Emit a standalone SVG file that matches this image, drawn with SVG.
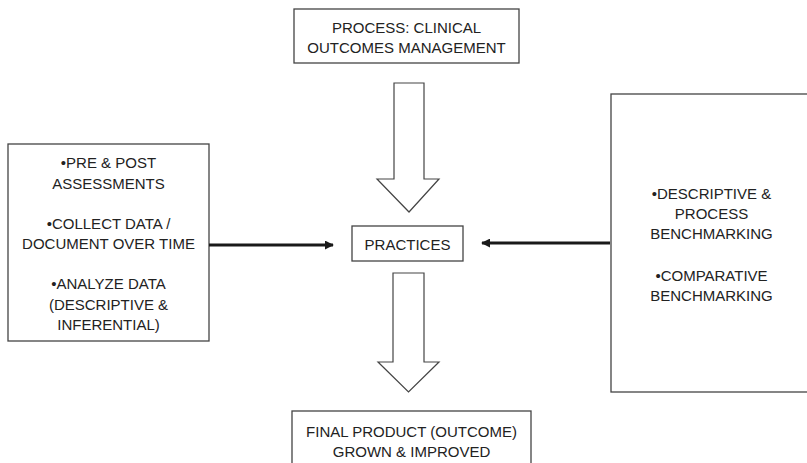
<svg xmlns="http://www.w3.org/2000/svg" width="807" height="463" viewBox="0 0 807 463">
<style>
  .box { fill: #ffffff; stroke: #444444; stroke-width: 1.3; }
  .big { fill: #ffffff; stroke: #444444; stroke-width: 1.2; stroke-linejoin: miter; }
  text { font-family: "Liberation Sans", Arial, sans-serif; font-size: 15px; fill: #222222; text-anchor: middle; }
  .conn { stroke: #1a1a1a; stroke-width: 3; fill: none; }
</style>
<defs>
  <marker id="ah" viewBox="0 0 10 10" refX="9" refY="5" markerWidth="3.2" markerHeight="3" orient="auto" markerUnits="strokeWidth">
    <path d="M0,0 L10,5 L0,10 Z" fill="#1a1a1a"/>
  </marker>
</defs>
<rect width="807" height="463" fill="#ffffff"/>

<g id="process">
  <rect class="box" x="294" y="9" width="225" height="54"/>
  <text x="406.5" y="33">PROCESS: CLINICAL</text>
  <text x="406.5" y="53">OUTCOMES MANAGEMENT</text>
</g>

<g id="left-box">
  <rect class="box" x="8" y="144" width="201" height="197"/>
  <text x="108.5" y="168">•PRE &amp; POST</text>
  <text x="108.5" y="188.5">ASSESSMENTS</text>
  <text x="108.5" y="228.5">•COLLECT DATA /</text>
  <text x="108.5" y="249">DOCUMENT OVER TIME</text>
  <text x="108.5" y="289">•ANALYZE DATA</text>
  <text x="108.5" y="309.5">(DESCRIPTIVE &amp;</text>
  <text x="108.5" y="330">INFERENTIAL)</text>
</g>

<g id="practices">
  <rect class="box" x="352" y="226" width="111" height="35"/>
  <text x="407.5" y="250">PRACTICES</text>
</g>

<g id="right-box">
  <rect class="box" x="611" y="94" width="210" height="298"/>
  <text x="711.5" y="199">•DESCRIPTIVE &amp;</text>
  <text x="711.5" y="219">PROCESS</text>
  <text x="711.5" y="239">BENCHMARKING</text>
  <text x="711.5" y="281">•COMPARATIVE</text>
  <text x="711.5" y="301">BENCHMARKING</text>
</g>

<g id="final-product">
  <rect class="box" x="292" y="411" width="239" height="70"/>
  <text x="411.5" y="437">FINAL PRODUCT (OUTCOME)</text>
  <text x="411.5" y="457">GROWN &amp; IMPROVED</text>
</g>

<g id="connectors">
  <path class="big" d="M394,83 L424,83 L424,179 L439,179 L409,212 L377,179 L394,179 Z"/>
  <path class="big" d="M393,273 L424,273 L424,362 L439,362 L408.5,392 L378,362 L393,362 Z"/>
  <line class="conn" x1="209" y1="245" x2="333" y2="245" marker-end="url(#ah)"/>
  <line class="conn" x1="610" y1="243" x2="482" y2="243" marker-end="url(#ah)"/>
</g>
</svg>
